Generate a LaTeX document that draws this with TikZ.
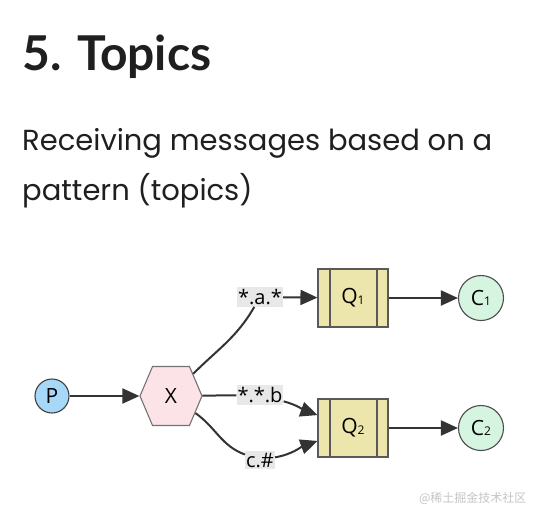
\documentclass[tikz,border=0pt]{standalone}
\usepackage{fontspec}
\setmainfont{Open Sans}
\newfontfamily\headfont{Lato}
\newfontfamily\subfont{Poppins}
\newfontfamily\cjkfont{Noto Sans CJK SC}
\usetikzlibrary{arrows.meta,shapes.symbols}
\definecolor{ink}{HTML}{1F1F1F}
\definecolor{linegray}{HTML}{333333}
\definecolor{pfill}{HTML}{A8D8F8}
\definecolor{xfill}{HTML}{FBE3E8}
\definecolor{qfill}{HTML}{ECE6AC}
\definecolor{cfill}{HTML}{D6F5E1}
\definecolor{lblfill}{HTML}{E8E8E8}
\definecolor{markgray}{HTML}{C4C4C4}
\newcommand{\idx}[1]{\raisebox{-0.5pt}{\fontsize{12}{12}\selectfont #1}}

\begin{document}
\begin{tikzpicture}[x=1pt,y=1pt,
	arr/.style={ -{Triangle[length=17pt,width=15pt]}, line width=2pt, draw=linegray },
	line/.style={ line width=2pt, draw=linegray },
	prod/.style={ circle, draw=black!75, line width=1.1pt, fill=pfill, inner sep=0pt, minimum size=34pt, font=\fontsize{21}{21}\selectfont },
	exch/.style={ signal, signal to=east and west, signal pointer angle=134, draw=black!55, line width=1.1pt, fill=xfill, inner sep=0pt, minimum width=62pt, minimum height=59pt, font=\fontsize{21}{21}\selectfont },
	queue/.style={ rectangle, draw=black!65, line width=1.1pt, fill=qfill, inner sep=0pt, minimum width=70pt, minimum height=58pt, font=\fontsize{21}{21}\selectfont,
		path picture={
			\draw[black!65, line width=1.1pt] ([xshift=12pt]path picture bounding box.north west) -- ([xshift=12pt]path picture bounding box.south west);
			\draw[black!65, line width=1.1pt] ([xshift=-11pt]path picture bounding box.north east) -- ([xshift=-11pt]path picture bounding box.south east);
		} },
	cons/.style={ circle, draw=black!70, line width=1.1pt, fill=cfill, inner sep=0pt, minimum size=45pt, font=\fontsize{21}{21}\selectfont },
	lbl/.style={ rectangle, fill=lblfill, inner xsep=1pt, inner ysep=2pt, font=\fontsize{20}{20}\selectfont }
]

\useasboundingbox (0,0) rectangle (536,-507);

\node at (22,-70) (title) [anchor=base west, inner sep=0pt, text=ink, font=\headfont\bfseries\fontsize{48}{48}\selectfont] {5. Topics};
\node at (22,-150) (sub1) [anchor=base west, inner sep=0pt, text=ink, font=\subfont\fontsize{29}{29}\selectfont] {Receiving messages based on a};
\node at (22,-200) (sub2) [anchor=base west, inner sep=0pt, text=ink, font=\subfont\fontsize{29}{29}\selectfont] {pattern (topics)};

\node at (52,-396) (P) [prod] {P};
\node at (171,-396) (X) [exch] {X};
\node at (353,-298) (Q1) [queue] {Q\idx{1}};
\node at (353,-428) (Q2) [queue] {Q\idx{2}};
\node at (481,-298) (C1) [cons] {C\idx{1}};
\node at (481,-428) (C2) [cons] {C\idx{2}};

\node at (260,-297) (la) [lbl] {*.a.*};
\node at (260,-395) (lb) [lbl] {*.*.b};
\node at (260,-460) (lc) [lbl] {c.\#};

\draw[arr] (P) -- (X);
\draw[line] (X) to[out=45,in=-120] (la);
\draw[arr] (la) -- (Q1);
\draw[line] (X) -- (lb);
\draw[arr] (lb) to[out=-15,in=160] (Q2);
\draw[line] (X) to[out=-35,in=160] (lc);
\draw[arr] (lc) to[out=10,in=200] (Q2);
\foreach \q/\c in {Q1/C1,Q2/C2} \draw[arr] (\q) -- (\c);

\node at (530,-498) (mark) [anchor=east, text=markgray, font=\cjkfont\fontsize{12}{12}\selectfont] {@稀土掘金技术社区};

\end{tikzpicture}
\end{document}
